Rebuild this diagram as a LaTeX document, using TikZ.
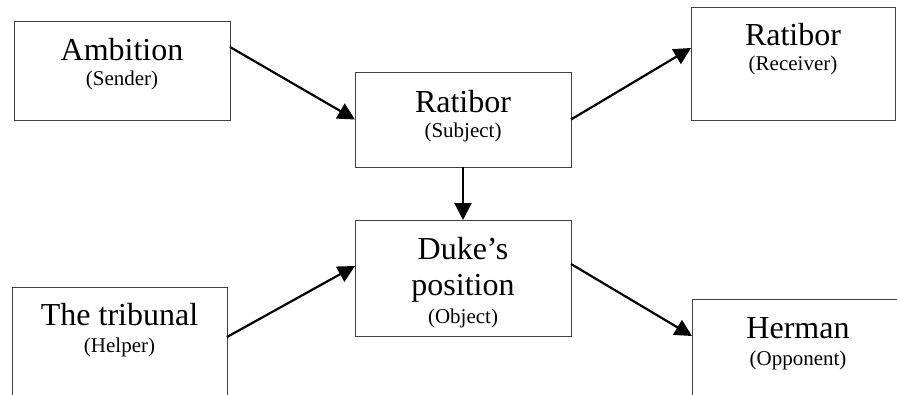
\documentclass[tikz,border=0pt]{standalone}
\usepackage{fontspec}
\setmainfont{Liberation Serif}
\usetikzlibrary{arrows.meta}
\begin{document}
\begin{tikzpicture}[x=1pt,y=-1pt,
  box/.style={draw=black!75,line width=1pt,inner sep=0pt,outer sep=0pt,anchor=north west},
  big/.style={font=\fontsize{32}{38}\selectfont,anchor=base,inner sep=0pt},
  small/.style={font=\fontsize{21}{25}\selectfont,anchor=base,inner sep=0pt},
  arr/.style={-{Triangle[length=17pt,width=17pt]},line width=2.2pt}]
\useasboundingbox (0,0) rectangle (897,394);
\clip (0,0) rectangle (897,394);
% boxes
\node[box,minimum width=216pt,minimum height=99pt]  (amb)  at (14,21)   {};
\node[box,minimum width=216pt,minimum height=95pt]  (subj) at (355,72)  {};
\node[box,minimum width=204pt,minimum height=113pt] (recv) at (691,7)   {};
\node[box,minimum width=215pt,minimum height=140pt] (help) at (12,287)  {};
\node[box,minimum width=216pt,minimum height=116pt] (obj)  at (355,220) {};
\node[box,minimum width=230pt,minimum height=130pt] (opp)  at (692,299) {};
% texts
\node[big]   (ambt)  at ([yshift=-39pt]amb.north)  {Ambition};
\node[small] (ambr)  at ([yshift=-64pt]amb.north)  {(Sender)};
\node[big]   (subjt) at ([yshift=-40pt]subj.north) {Ratibor};
\node[small] (subjr) at ([yshift=-65pt]subj.north) {(Subject)};
\node[big]   (recvt) at ([yshift=-38pt]recv.north) {Ratibor};
\node[small] (recvr) at ([yshift=-63pt]recv.north) {(Receiver)};
\node[big]   (helpt) at ([yshift=-38pt]help.north) {The tribunal};
\node[small] (helpr) at ([yshift=-65pt]help.north) {(Helper)};
\node[big]   (objt1) at ([yshift=-39pt]obj.north)  {Duke’s};
\node[big]   (objt2) at ([yshift=-75pt]obj.north)  {position};
\node[small] (objr)  at ([yshift=-103pt]obj.north) {(Object)};
\node[big]   (oppt)  at ([yshift=-39pt]opp.north -| 798,0) {Herman};
\node[small] (oppr)  at ([yshift=-66pt]opp.north -| 798,0) {(Opponent)};
% connectors
\draw[arr] ([yshift=-26pt]amb.north east) -- (subj.west);
\draw[arr] (subj.east) -- ([yshift=-41pt]recv.north west);
\draw[arr] (subj.south) -- (obj.north);
\draw[arr] ([yshift=-50pt]help.north east) -- ([yshift=-46pt]obj.north west);
\draw[arr] ([yshift=-44pt]obj.north east) -- ([yshift=-37pt]opp.north west);
\end{tikzpicture}
\end{document}
